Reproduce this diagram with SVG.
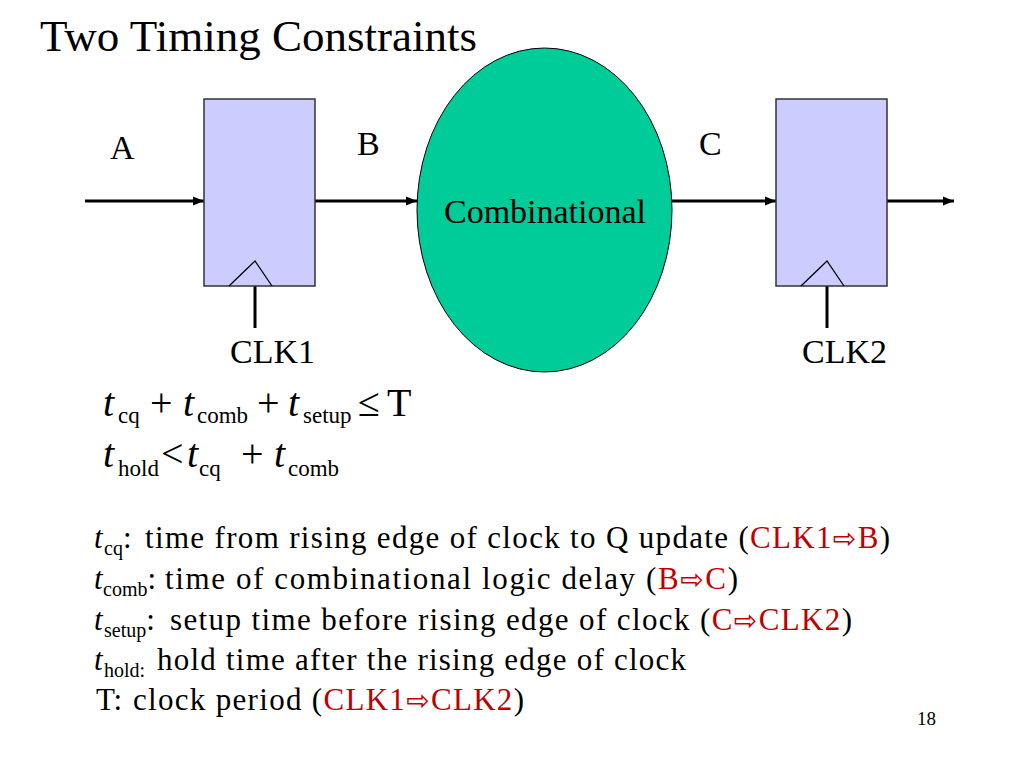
<svg xmlns="http://www.w3.org/2000/svg" width="1024" height="768" viewBox="0 0 1024 768">
<style>
  text { font-family: "Liberation Serif", "Times New Roman", serif; fill: #000; }
  .title { font-size: 45px; }
  .lbl { font-size: 34px; }
  .eq { font-size: 40px; }
  .eqs { font-size: 23px; }
  .body { font-size: 31px; }
  .bsub { font-size: 20px; }
  .it { font-style: italic; }
  .red { fill: #C00000; }
  .arr { font-family: "DejaVu Sans", sans-serif; font-size: 28px; fill: #C00000; }
  .flop { fill: #CCCCFF; stroke: #333; stroke-width: 1.5; }
  .clk { fill: none; stroke: #000; stroke-width: 1.3; }
  .wire { fill: none; stroke: #000; stroke-width: 3; }
</style>
<defs>
  <marker id="ah" markerUnits="userSpaceOnUse" markerWidth="12" markerHeight="10" refX="11" refY="5" orient="auto">
    <path d="M0,0.5 L11,5 L0,9.5 Z" fill="#000"/>
  </marker>
</defs>
<rect width="1024" height="768" fill="#fff"/>

<text class="title" x="40" y="51">Two Timing Constraints</text>

<g id="connectors">
  <line class="wire" x1="85" y1="201" x2="204" y2="201" marker-end="url(#ah)"/>
  <line class="wire" x1="315" y1="201" x2="417" y2="201" marker-end="url(#ah)"/>
  <line class="wire" x1="672" y1="201" x2="776" y2="201" marker-end="url(#ah)"/>
  <line class="wire" x1="887" y1="201" x2="954" y2="201" marker-end="url(#ah)"/>
  <line class="wire" x1="255" y1="286" x2="255" y2="328"/>
  <line class="wire" x1="827" y1="286" x2="827" y2="328"/>
</g>

<g id="flop1">
  <rect class="flop" x="204" y="99" width="111" height="187"/>
  <polyline class="clk" points="229,286 255,261 272,286"/>
</g>

<g id="comb">
  <ellipse cx="544.5" cy="210" rx="127.5" ry="162" fill="#00CC99" stroke="#000" stroke-width="1"/>
  <text class="lbl" x="545" y="223" text-anchor="middle">Combinational</text>
</g>

<g id="flop2">
  <rect class="flop" x="776" y="99" width="111" height="187"/>
  <polyline class="clk" points="801,286 827,261 844,286"/>
</g>

<g id="labels">
  <text class="lbl" x="110" y="159">A</text>
  <text class="lbl" x="357" y="155">B</text>
  <text class="lbl" x="699" y="155">C</text>
  <text class="lbl" x="230" y="363">CLK1</text>
  <text class="lbl" x="802" y="363">CLK2</text>
</g>

<g id="equations">
  <text class="eq" y="416"><tspan class="it" x="103">t</tspan><tspan class="eqs" x="118" dy="7">cq</tspan><tspan x="150" dy="-7">+</tspan><tspan class="it" x="183">t</tspan><tspan class="eqs" x="197" dy="7">comb</tspan><tspan x="257" dy="-7">+</tspan><tspan class="it" x="288">t</tspan><tspan class="eqs" x="303" dy="7">setup</tspan><tspan x="358" dy="-7">≤</tspan><tspan x="387">T</tspan></text>
  <text class="eq" y="467"><tspan class="it" x="103">t</tspan><tspan class="eqs" x="118" dy="9">hold</tspan><tspan x="161" dy="-9">&lt;</tspan><tspan class="it" x="187">t</tspan><tspan class="eqs" x="199" dy="9">cq</tspan><tspan x="241" dy="-9">+</tspan><tspan class="it" x="274">t</tspan><tspan class="eqs" x="288" dy="9">comb</tspan></text>
</g>

<g id="definitions">
  <text class="body" y="548"><tspan class="it" x="94">t</tspan><tspan class="bsub" x="104" dy="7">cq</tspan><tspan dy="-7">:</tspan></text>
  <text class="body" x="145" y="548" textLength="745" lengthAdjust="spacing">time from rising edge of clock to Q update (<tspan class="red">CLK1</tspan><tspan class="arr">⇨</tspan><tspan class="red">B</tspan>)</text>

  <text class="body" y="589"><tspan class="it" x="94">t</tspan><tspan class="bsub" x="103" dy="7">comb</tspan><tspan dy="-7">:</tspan></text>
  <text class="body" x="165" y="589" textLength="573" lengthAdjust="spacing">time of combinational logic delay (<tspan class="red">B</tspan><tspan class="arr">⇨</tspan><tspan class="red">C</tspan>)</text>

  <text class="body" y="630"><tspan class="it" x="94">t</tspan><tspan class="bsub" x="104" dy="7">setup</tspan><tspan dy="-7">:</tspan></text>
  <text class="body" x="170" y="630" textLength="682" lengthAdjust="spacing">setup time before rising edge of clock (<tspan class="red">C</tspan><tspan class="arr">⇨</tspan><tspan class="red">CLK2</tspan>)</text>

  <text class="body" y="670"><tspan class="it" x="94">t</tspan><tspan class="bsub" x="104" dy="7">hold:</tspan></text>
  <text class="body" x="157" y="670" textLength="529" lengthAdjust="spacing">hold time after the rising edge of clock</text>

  <text class="body" x="96" y="710">T:</text>
  <text class="body" x="133" y="710" textLength="391" lengthAdjust="spacing">clock period (<tspan class="red">CLK1</tspan><tspan class="arr">⇨</tspan><tspan class="red">CLK2</tspan>)</text>
</g>

<text x="917" y="725" font-size="19">18</text>
</svg>
